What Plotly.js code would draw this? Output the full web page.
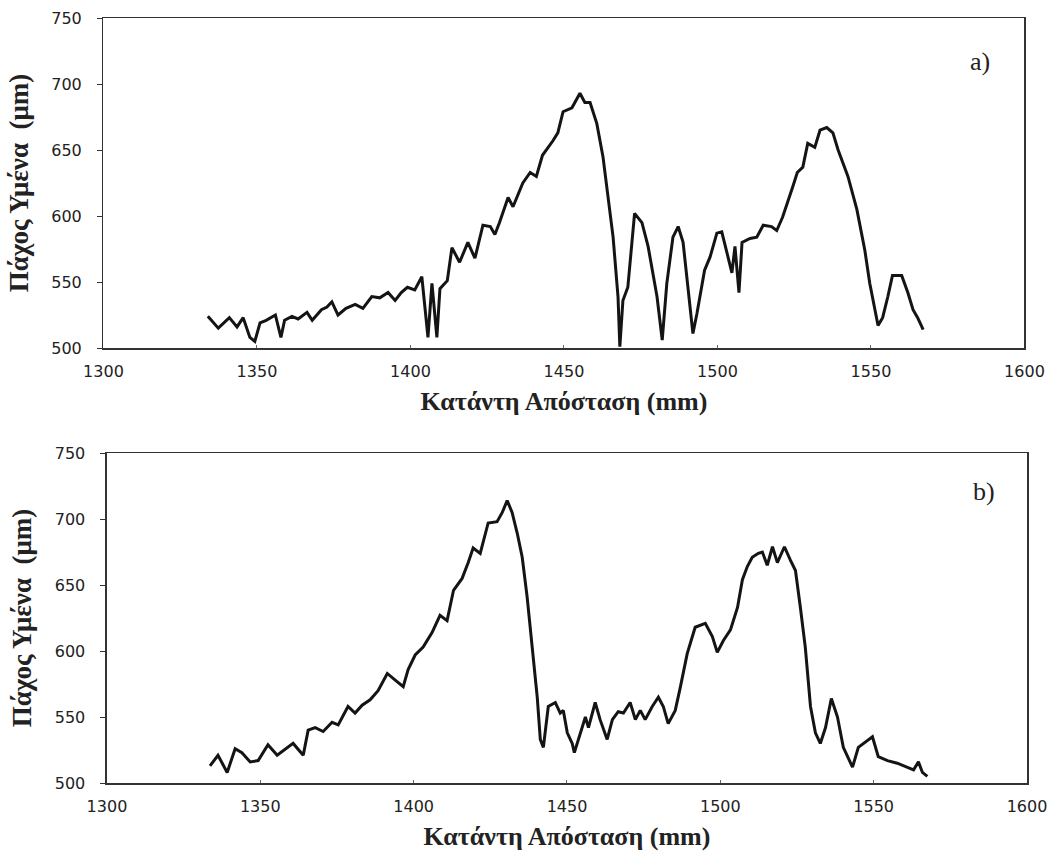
<!DOCTYPE html>
<html>
<head>
<meta charset="utf-8">
<script src="https://cdn.plot.ly/plotly-3.0.1.min.js"></script>
<style>html,body{margin:0;padding:0;background:#fff;}#chart{width:1059px;height:858px;}</style>
</head>
<body>
<div id="chart"></div>
<script>
// Panel a) downstream distance (mm) and film thickness (μm)
const xA = [1334,1337.4,1341,1343.5,1345.5,1347.7,1349.3,1351,1353,1356,1357.8,1359,1361.4,1363.4,1366.3,1368,1371,1372.8,1374.4,1376.4,1379,1382,1384.5,1387.4,1390,1392.7,1395,1397,1399,1401.4,1403.7,1405.7,1407,1408.6,1409.6,1412,1413.5,1416,1418.7,1421,1423.6,1426,1427.5,1429,1431.8,1433.4,1436.6,1439,1441,1443,1446.4,1448,1449.7,1452.6,1455.2,1456.8,1458.5,1460.7,1462.7,1464.3,1466,1467.6,1468.2,1469.2,1470.8,1473,1475.4,1477.4,1480.3,1482,1483.5,1485.5,1487.2,1488.8,1490.4,1492,1493.3,1495.8,1497.6,1499.8,1501.4,1503,1504.7,1505.7,1507,1508,1510.6,1512.8,1514.9,1517.6,1519.3,1521.2,1522.9,1524.5,1526,1527.8,1529.4,1531.7,1533.4,1535.6,1537.6,1539.3,1542.5,1545.4,1548,1549.6,1552.3,1553.8,1555.5,1557,1560,1562,1563.7,1565.2,1567];
const yA = [524,515,523,516,523,508,505,519,521,525,508,521,524,522,527,521,529,531,535,525,530,533,530,539,538,542,536,542,546,544,554,508,549,508,545,551,576,565,580,568,593,592,586,595,614,607,625,633,630,646,657,663,679,682,693,686,686,670,645,617,584,539,501,536,546,602,595,577,539,506,549,584,592,580,544,511,526,559,569,587,588,574,557,577,542,580,583,584,593,592,589,599,610,622,633,637,655,652,665,667,663,650,630,605,574,549,517,523,539,555,555,542,529,523,514];

// Panel b)
const xB = [1333.6,1336.2,1339.2,1341.8,1344,1346.7,1349.3,1352.5,1355.5,1358,1360.7,1364,1365.6,1367.9,1370.5,1373.4,1375.4,1378.6,1380.9,1383.2,1385.8,1388.4,1391.4,1394,1396.6,1398.2,1400.5,1403.1,1406,1408.6,1410.9,1413,1415.8,1417.8,1419.4,1421.7,1424.3,1427.2,1428.9,1430.5,1432.1,1433.8,1435.4,1437,1438.7,1440.3,1441.3,1442.3,1443.9,1446.2,1447.8,1448.8,1450.1,1451.7,1452.4,1454.3,1456,1457,1459.2,1460.8,1463.1,1464.8,1466.7,1468.4,1470.6,1472.3,1473.9,1475.5,1477.8,1479.8,1481.4,1483,1485.3,1487,1489.2,1491.8,1495.1,1497.4,1499,1501,1503.3,1505.6,1507.2,1508.8,1510.4,1512.4,1513.7,1515.3,1517,1518.6,1520.9,1522.8,1524.5,1526.1,1527.7,1529.4,1531,1532.6,1534.3,1536.2,1538.2,1540.1,1543.1,1545,1547.3,1549.6,1551.5,1554.5,1557.7,1561,1563,1564.6,1565.9,1567.5];
const yB = [513,521,508,526,523,516,517,529,521,525,530,521,540,542,539,546,544,558,553,559,563,570,583,578,573,586,597,603,614,627,623,646,655,667,678,674,697,698,705,714,705,689,671,641,603,565,533,527,558,561,553,555,538,530,523,538,550,542,561,548,533,548,554,553,561,548,555,548,558,565,558,545,555,573,598,618,621,611,599,608,616,633,654,664,671,674,675,665,679,667,679,669,661,633,603,558,538,530,542,564,550,527,512,527,531,535,520,517,515,512,510,516,508,505];

const xTicks = [1300,1350,1400,1450,1500,1550,1600];
const yTicks = [500,550,600,650,700,750];
const xTitle = 'Κατάντη Απόσταση (mm)';
const yTitle = 'Πάχος Υμένα  (μm)';
const panelLabels = ['a)','b)'];

const lineStyle = {color:'#141414', width:3, shape:'linear'};
const traces = [
  {x:xA, y:yA, type:'scatter', mode:'lines', line:lineStyle, xaxis:'x', yaxis:'y', hoverinfo:'skip'},
  {x:xB, y:yB, type:'scatter', mode:'lines', line:lineStyle, xaxis:'x2', yaxis:'y2', hoverinfo:'skip'}
];

const tickFont = {family:'DejaVu Sans', size:16, color:'#222'};
const titleFont = {family:'Liberation Serif', size:26, color:'#222', weight:'bold'};
const yTitleFont = {family:'Liberation Serif', size:27, color:'#222', weight:'bold'};

function xAxis(domain, anchor){
  return {domain:domain, anchor:anchor, range:[1300,1600], tickvals:xTicks, ticktext:xTicks.map(String),
    showgrid:false, zeroline:false, showline:true, linecolor:'#333', linewidth:1.5, mirror:true,
    ticks:'inside', ticklen:3, tickcolor:'#666', tickfont:tickFont, ticklabelstandoff:8,
    title:{text:xTitle, font:titleFont, standoff:12}};
}
function yAxis(domain, anchor){
  return {domain:domain, anchor:anchor, range:[500,750], tickvals:yTicks, ticktext:yTicks.map(String),
    showgrid:false, zeroline:false, showline:true, linecolor:'#333', linewidth:1.5, mirror:true,
    ticks:'outside', ticklen:5, tickcolor:'#333', tickfont:tickFont, ticklabelstandoff:12,
    title:{text:yTitle, font:yTitleFont, standoff:15}};
}

const layout = {
  width:1059, height:858, showlegend:false,
  paper_bgcolor:'#fff', plot_bgcolor:'#fff',
  margin:{l:0,r:0,t:0,b:0},
  xaxis:xAxis([0.0977,0.9674],'y'),
  yaxis:yAxis([0.5944,0.979],'x'),
  xaxis2:xAxis([0.1010,0.9698],'y2'),
  yaxis2:yAxis([0.0874,0.472],'x2'),
  annotations:[
    {text:panelLabels[0], xref:'x', yref:'y', x:1585.5, y:717, showarrow:false,
     font:{family:'Liberation Serif', size:26, color:'#222'}},
    {text:panelLabels[1], xref:'x2', yref:'y2', x:1586, y:721, showarrow:false,
     font:{family:'Liberation Serif', size:26, color:'#222'}}
  ]
};

Plotly.newPlot('chart', traces, layout, {staticPlot:true, displayModeBar:false});
</script>
</body>
</html>
